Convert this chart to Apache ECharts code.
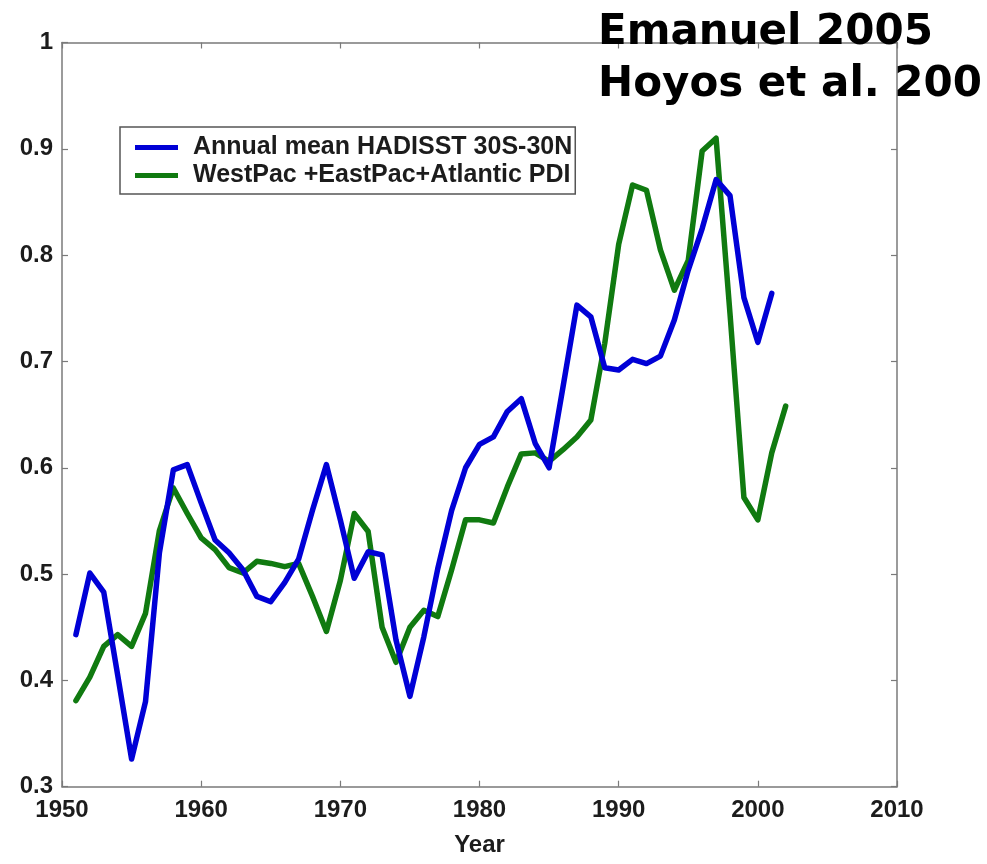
<!DOCTYPE html>
<html>
<head>
<meta charset="utf-8">
<title>SST vs PDI</title>
<script src="https://cdn.jsdelivr.net/npm/echarts@6/dist/echarts.min.js"></script>
<style>
  html, body { margin: 0; padding: 0; background: #fff; }
  #chart { width: 987px; height: 864px; }
</style>
</head>
<body>
<div id="chart"></div>
<script>
// Normalised annual series, 1951 onward
const sstYears = [1951,1952,1953,1954,1955,1956,1957,1958,1959,1960,
  1961,1962,1963,1964,1965,1966,1967,1968,1969,1970,
  1971,1972,1973,1974,1975,1976,1977,1978,1979,1980,
  1981,1982,1983,1984,1985,1986,1987,1988,1989,1990,
  1991,1992,1993,1994,1995,1996,1997,1998,1999,2000,2001];
const sstValues = [0.443,0.501,0.483,0.405,0.326,0.380,0.520,0.598,0.603,0.567,
  0.532,0.520,0.504,0.479,0.474,0.492,0.514,0.560,0.603,0.551,
  0.496,0.521,0.518,0.438,0.385,0.441,0.505,0.560,0.600,0.622,
  0.629,0.653,0.665,0.623,0.600,0.676,0.753,0.742,0.694,0.692,
  0.702,0.698,0.705,0.739,0.786,0.825,0.871,0.856,0.760,0.718,0.764];

const pdiYears = [1951,1952,1953,1954,1955,1956,1957,1958,1959,1960,
  1961,1962,1963,1964,1965,1966,1967,1968,1969,1970,
  1971,1972,1973,1974,1975,1976,1977,1978,1979,1980,
  1981,1982,1983,1984,1985,1986,1987,1988,1989,1990,
  1991,1992,1993,1994,1995,1996,1997,1998,1999,2000,2001,2002];
const pdiValues = [0.381,0.403,0.432,0.443,0.432,0.463,0.541,0.581,0.557,0.534,
  0.523,0.506,0.501,0.512,0.510,0.507,0.510,0.479,0.446,0.494,
  0.557,0.540,0.450,0.417,0.450,0.466,0.460,0.504,0.551,0.551,
  0.548,0.582,0.613,0.614,0.606,0.617,0.629,0.645,0.717,0.810,
  0.866,0.861,0.805,0.767,0.795,0.898,0.910,0.745,0.572,0.551,0.614,0.658];

const seriesNames = ['Annual mean HADISST 30S-30N', 'WestPac +EastPac+Atlantic PDI'];
const titleLines = ['Emanuel 2005', 'Hoyos et al. 200'];
const xTicks = { min: 1950, max: 2010, step: 10 };
const yTicks = { min: 0.3, max: 1, step: 0.1 };
const xName = 'Year';

const pairs = (xs, ys) => xs.map((x, i) => [x, ys[i]]);

const FONT = 'Liberation Sans, Arial, sans-serif';
const AXIS_COLOR = '#7a7a7a';
const TEXT_COLOR = '#1c1c1c';

const chart = echarts.init(document.getElementById('chart'), null, { renderer: 'canvas' });

const frameAxis = {
  axisLine: { show: true, onZero: false, lineStyle: { color: AXIS_COLOR, width: 1.5 } },
  axisTick: { show: true, inside: true, length: 6, lineStyle: { color: AXIS_COLOR, width: 1.2 } },
  splitLine: { show: false }
};

chart.setOption({
  backgroundColor: '#ffffff',
  animation: false,
  grid: { left: 62, right: 90, top: 42.5, bottom: 77.3, containLabel: false },
  legend: {
    left: 120, top: 127,
    orient: 'vertical',
    icon: 'rect',
    itemWidth: 43, itemHeight: 5, itemGap: 3,
    padding: [8, 3, 6, 15],
    borderColor: '#555', borderWidth: 1.5,
    backgroundColor: '#ffffff',
    textStyle: { fontFamily: FONT, fontWeight: 'bold', fontSize: 25, color: TEXT_COLOR,
                 lineHeight: 25, padding: [0, 0, 0, 10] },
    data: seriesNames
  },
  xAxis: [
    Object.assign({
      type: 'value', position: 'bottom',
      min: xTicks.min, max: xTicks.max, interval: xTicks.step,
      name: xName, nameLocation: 'middle', nameGap: 47,
      nameTextStyle: { fontFamily: FONT, fontWeight: 'bold', fontSize: 24, color: TEXT_COLOR },
      axisLabel: { fontFamily: FONT, fontWeight: 'bold', fontSize: 24, color: TEXT_COLOR, margin: 12,
                   formatter: v => String(v) }
    }, frameAxis),
    Object.assign({
      type: 'value', position: 'top',
      min: xTicks.min, max: xTicks.max, interval: xTicks.step,
      axisLabel: { show: false }
    }, frameAxis)
  ],
  yAxis: [
    Object.assign({
      type: 'value', position: 'left',
      min: yTicks.min, max: yTicks.max, interval: yTicks.step,
      axisLabel: { fontFamily: FONT, fontWeight: 'bold', fontSize: 24, color: TEXT_COLOR, margin: 9,
                   formatter: v => String(Number(v.toFixed(1))) }
    }, frameAxis),
    Object.assign({
      type: 'value', position: 'right',
      min: yTicks.min, max: yTicks.max, interval: yTicks.step,
      axisLabel: { show: false }
    }, frameAxis)
  ],
  series: [
    {
      name: seriesNames[0], type: 'line', xAxisIndex: 0, yAxisIndex: 0,
      data: pairs(sstYears, sstValues),
      symbol: 'none', color: '#0000d6',
      lineStyle: { width: 5.5, color: '#0000d6', join: 'round', cap: 'round' },
      z: 3
    },
    {
      name: seriesNames[1], type: 'line', xAxisIndex: 0, yAxisIndex: 0,
      data: pairs(pdiYears, pdiValues),
      symbol: 'none', color: '#107a10',
      lineStyle: { width: 5.5, color: '#107a10', join: 'round', cap: 'round' },
      z: 2
    }
  ],
  graphic: titleLines.map((t, i) => ({
    type: 'text', z: 100,
    left: 598, top: 12 + i * 52,
    style: { text: t, font: 'bold 42px "DejaVu Sans", sans-serif', fill: '#000' }
  }))
});
</script>
</body>
</html>
